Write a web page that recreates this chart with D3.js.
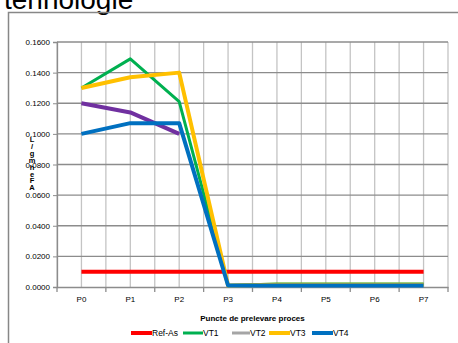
<!DOCTYPE html>
<html><head><meta charset="utf-8">
<script src="https://cdn.jsdelivr.net/npm/d3@7"></script>
<style>body{margin:0;background:#fff;}svg{display:block;font-family:"Liberation Sans",Arial,sans-serif;}</style>
</head><body>
<svg id="c" width="458" height="343"></svg>
<script>
const categories = ["P0","P1","P2","P3","P4","P5","P6","P7"];
const refAs = [0.01,0.01,0.01,0.01,0.01,0.01,0.01,0.01];
const vt1 = [0.130,0.149,0.121,0.001,0.002,0.002,0.002,0.002];
const vt2 = [null,null,null,0.001,0.001,0.001,0.001,0.001];
const vt3 = [0.130,0.137,0.140,0.001,0.0015,0.0015,0.0015,0.0015];
const vt4 = [0.100,0.107,0.107,0.001,0.001,0.001,0.001,0.001];
const extra = [0.120,0.114,0.100,null,null,null,null,null];
const yTicks = [0,0.02,0.04,0.06,0.08,0.10,0.12,0.14,0.16];
const title = "tehnologie";
const xTitle = "Puncte de prelevare proces";
const yTitleLetters = ["L","/","g","m","h","e","F","A"];

const series = [
  {name:null, values:extra, color:"#7030A0", w:4},
  {name:"Ref-As", values:refAs, color:"#FF0000", w:4},
  {name:"VT1", values:vt1, color:"#00B050", w:3},
  {name:"VT2", values:vt2, color:"#A5A5A5", w:3},
  {name:"VT3", values:vt3, color:"#FFC000", w:4},
  {name:"VT4", values:vt4, color:"#0070C0", w:4}
];

const svg = d3.select("#c");
const L=57, R=448, T=42, B=287;
const xb = d3.scaleBand().domain(categories).range([L,R]).padding(0);
const x = d3.scalePoint().domain(categories).range([L,R]).padding(0.5);
const y = d3.scaleLinear().domain([0,0.16]).range([B,T]);

// title
svg.append("text").attr("x",4).attr("y",9).attr("font-size",28).attr("fill","#000").text(title);
// outer border
svg.append("rect").attr("x",8.5).attr("y",12.5).attr("width",470).attr("height",350)
  .attr("fill","none").attr("stroke","#878787").attr("stroke-width",1.5);

// vertical gridlines (half-step)
const vx = [];
categories.forEach(c=>{vx.push(xb(c)); vx.push(x(c));});
vx.push(R);
svg.append("g").selectAll("line").data(vx).join("line")
  .attr("x1",d=>d).attr("x2",d=>d).attr("y1",T).attr("y2",B)
  .attr("stroke","#C4C4C4").attr("stroke-width",1.3);
// horizontal gridlines
svg.append("g").selectAll("line").data(yTicks.slice(1)).join("line")
  .attr("x1",L).attr("x2",R).attr("y1",d=>y(d)).attr("y2",d=>y(d))
  .attr("stroke","#8C8C8C").attr("stroke-width",1.3);

// y axis
const ya = svg.append("g").attr("transform",`translate(${L},0)`)
  .call(d3.axisLeft(y).tickValues(yTicks).tickFormat(d3.format(".4f")).tickSize(4).tickPadding(3));
ya.select(".domain").attr("stroke","#8C8C8C").attr("stroke-width",1.3);
ya.selectAll(".tick line").attr("stroke","#8C8C8C");
ya.selectAll("text").attr("font-size",8).attr("fill","#000").attr("font-family","Liberation Sans, Arial, sans-serif");

// x axis
const xa = svg.append("g").attr("transform",`translate(0,${B})`)
  .call(d3.axisBottom(xb).tickSize(0).tickPadding(9));
xa.select(".domain").attr("stroke","#8C8C8C").attr("stroke-width",1.3);
xa.selectAll("text").attr("font-size",8).attr("fill","#000").attr("font-family","Liberation Sans, Arial, sans-serif");
svg.append("g").selectAll("line").data(vx.filter((d,i)=>i%2===0||d===R)).join("line")
  .attr("x1",d=>d).attr("x2",d=>d).attr("y1",B).attr("y2",B+5)
  .attr("stroke","#8C8C8C").attr("stroke-width",1.3);

// lines
const line = d3.line().defined(d=>d.v!=null).x(d=>x(d.c)).y(d=>y(d.v));
series.forEach(s=>{
  svg.append("path").datum(categories.map((c,i)=>({c, v:s.values[i]})))
    .attr("d",line).attr("fill","none").attr("stroke",s.color)
    .attr("stroke-width",s.w).attr("stroke-linejoin","round");
});

// axis titles
svg.append("text").attr("x",(L+R)/2).attr("y",321).attr("text-anchor","middle")
  .attr("font-size",8).attr("font-weight","bold").text(xTitle);
svg.append("g").selectAll("text").data(yTitleLetters).join("text")
  .attr("x",32).attr("y",(d,i)=>142+i*6.9).attr("text-anchor","middle")
  .attr("font-size",7.5).attr("font-weight","bold").text(d=>d);

// legend
const legendPos = [[131,152],[183,203],[232,250],[269,290],[312,333]];
const legendSeries = series.filter(s=>s.name);
const lg = svg.append("g");
legendSeries.forEach((s,i)=>{
  const [x0,tx]=legendPos[i];
  lg.append("line").attr("x1",x0).attr("x2",tx).attr("y1",333).attr("y2",333)
    .attr("stroke",s.color).attr("stroke-width",s.w);
  lg.append("text").attr("x",tx).attr("y",336).attr("font-size",8.5).text(s.name);
});
</script>
</body></html>
